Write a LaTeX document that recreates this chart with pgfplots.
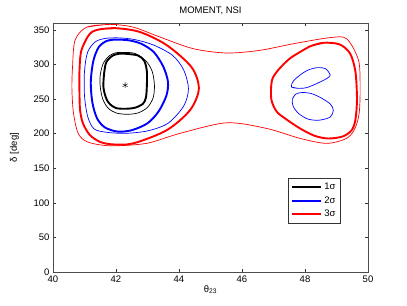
\documentclass[border=0pt]{standalone}
\usepackage{fontspec}
\setmainfont{Liberation Sans}
\usepackage{pgfplots}
\pgfplotsset{compat=1.18}
\begin{document}
\begin{tikzpicture}
\begin{axis}[
  scale only axis, width=315pt, height=249pt,
  at={(0,0)}, anchor=south west,
  xmin=40, xmax=50, ymin=0, ymax=360,
  xtick={40,42,...,50}, ytick={0,50,...,350},
  tick align=inside, major tick length=3pt,
  axis line style={line width=0.7pt, black!70},
  every tick/.style={black!80, line width=0.5pt},
  /pgf/number format/assume math mode=true,
  tick label style={font=\fontsize{9.5}{11}\selectfont},
  title={MOMENT, NSI}, title style={font=\fontsize{9.5}{11}\selectfont, yshift=-1pt},
  xlabel={θ\textsubscript{23}}, ylabel={δ [deg]},
  label style={font=\fontsize{9.5}{11}\selectfont},
  xlabel style={yshift=4pt}, ylabel style={yshift=8pt},
  legend style={at={(rel axis cs:0.914,0.194)}, anchor=south east, draw=black!80, line width=0.7pt,
    font=\fontsize{9.5}{11}\selectfont, row sep=1.5pt, inner xsep=3pt, inner ysep=3pt},
  legend cell align=left,
  legend image code/.code={\draw[#1] (0pt,0pt) -- (29pt,0pt);},
]
% thick 1 sigma
\addplot[black, line width=1.9pt, smooth] coordinates {
(42.1,315.5)(42.3,315.5)(42.7,313)(42.9,305)(42.98,290)(42.98,270)(42.95,252)(42.85,243)(42.6,237.5)(42.3,236)(42.0,237)(41.8,243)(41.68,252)(41.6,268)(41.63,290)(41.7,304)(41.9,313)(42.1,315.5)(42.3,315.5)};
\addlegendentry{1σ}
\addplot[blue, line width=1.9pt, smooth] coordinates {
(41.7,334)(41.95,336)(42.4,335)(42.8,330)(43.2,318)(43.5,297)(43.65,275)(43.6,255)(43.35,232)(43.0,215)(42.5,205)(42.05,203)(41.65,209)(41.4,222)(41.25,245)(41.2,275)(41.28,305)(41.45,325)(41.7,334)(41.95,336)};
\addlegendentry{2σ}
\addplot[red, line width=1.9pt, smooth] coordinates {
(41.5,351)(42.0,352.5)(42.76,347)(43.61,328)(44.4,296)(44.63,265)(44.35,234)(43.61,205)(42.55,186)(41.9,184.5)(41.5,188)(41.17,198)(40.95,215)(40.86,234)(40.84,260)(40.84,290)(40.9,320)(41.17,344.5)(41.5,351)(42.0,352.5)};
\addlegendentry{3σ}
% thin 1 sigma
\addplot[black, line width=0.7pt, smooth, forget plot] coordinates {
(42.0,317)(42.2,317.5)(42.6,316)(42.95,305)(43.15,290)(43.22,270)(43.18,252)(43.0,238)(42.7,230)(42.35,228)(42.0,230)(41.75,237)(41.58,250)(41.5,268)(41.5,285)(41.6,302)(41.8,313)(42.0,317)(42.2,317.5)};
% thin 2 sigma
\addplot[blue, line width=0.7pt, smooth, forget plot] coordinates {
(41.7,338)(42.1,338.5)(42.6,336)(43.2,328)(43.8,313)(44.15,292)(44.3,265)(44.15,240)(43.65,215)(43.0,204)(42.3,200.5)(41.7,202)(41.3,207)(41.1,225)(41.0,255)(41.0,290)(41.1,318)(41.35,333)(41.7,338)(42.1,338.5)};
% thick red right lobe
\addplot[red, line width=1.9pt, smooth, forget plot] coordinates {
(48.2,327)(48.6,331.5)(49.1,329)(49.43,316)(49.6,290)(49.65,250)(49.6,220)(49.48,205)(49.2,196)(48.74,193)(48.3,197)(47.84,207.6)(47.4,221)(47.1,232)(46.93,250)(46.95,277)(47.15,292)(47.5,308)(47.84,318)(48.2,327)(48.6,331.5)};
% thin red dumbbell
\addplot[red, line width=0.7pt, smooth, forget plot] coordinates {
(41.07,354)(41.8,358)(42.55,354)(43.4,339.6)(44.45,322.9)(45.51,316.6)(46.57,320.5)(47.63,330)(48.79,338.8)(49.32,337.3)(49.7,306)(49.75,265)(49.72,230)(49.59,208)(49.32,193.2)(48.69,186)(47.84,193.2)(46.78,207.6)(45.51,215.7)(44.03,200.4)(42.97,186)(41.81,182.5)(41.1,188)(40.8,200.4)(40.65,230)(40.6,265)(40.62,296.4)(40.7,335)(41.07,354)(41.8,358)};
% blue islands
\addplot[blue, line width=0.7pt, smooth, forget plot] coordinates {
(47.8,265.5)(47.57,267.5)(47.63,276)(47.85,285)(48.1,292)(48.4,295.5)(48.65,294)(48.8,285)(48.7,280)(48.4,273)(48.05,266.5)(47.8,265.5)(47.57,267.5)};
\addplot[blue, line width=0.7pt, smooth, forget plot] coordinates {
(47.6,250)(47.7,257)(47.9,259.5)(48.2,258)(48.5,252)(48.8,243)(48.9,234)(48.8,224)(48.45,219.5)(48.1,221)(47.8,229)(47.62,240)(47.6,250)(47.7,257)};
% best fit
\addplot[black, only marks, mark=asterisk, mark size=3pt, forget plot] coordinates {(42.29,270)};
\end{axis}
\pgfresetboundingbox
\useasboundingbox (-53pt,-33.7pt) rectangle (354pt,272pt);
\end{tikzpicture}
\end{document}
